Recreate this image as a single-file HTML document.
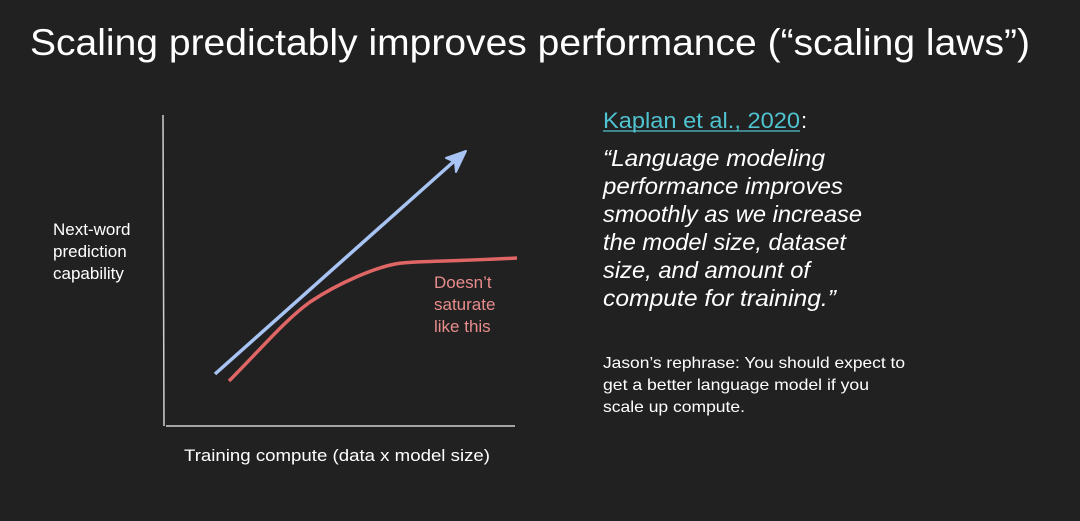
<!DOCTYPE html>
<html><head><style>
html,body{margin:0;padding:0;background:#212121;}
svg{display:block}
text{font-family:"Liberation Sans",sans-serif;}
</style></head><body>
<svg width="1080" height="521" viewBox="0 0 1080 521" xmlns="http://www.w3.org/2000/svg">
<rect width="1080" height="521" fill="#212121"/>
<text x="30" y="55" font-size="37" fill="#ffffff" textLength="1000" lengthAdjust="spacingAndGlyphs">Scaling predictably improves performance (“scaling laws”)</text>
<line x1="163" y1="115" x2="164" y2="426" stroke="#cfcfcf" stroke-width="1.5"/>
<line x1="166" y1="426" x2="515" y2="426" stroke="#cfcfcf" stroke-width="1.5"/>
<line x1="215" y1="374" x2="460" y2="156" stroke="#a8c4f4" stroke-width="3.5"/>
<path d="M466,151 L446,158 L455,162 L456,172 Z" fill="#a8c4f4" stroke="#a8c4f4" stroke-width="2" stroke-linejoin="round"/>
<path d="M229,381 C260,350 285,320 310,302 C340,282 375,268 395,264 C410,261 440,262 517,258" fill="none" stroke="#e06666" stroke-width="3.5"/>
<g font-size="17" fill="#e88c8c">
<text x="434" y="288">Doesn’t</text>
<text x="434" y="310">saturate</text>
<text x="434" y="332">like this</text>
</g>
<g font-size="17" fill="#ffffff">
<text x="53" y="235">Next-word</text>
<text x="53" y="257">prediction</text>
<text x="53" y="279">capability</text>
<text x="184" y="461" textLength="306" lengthAdjust="spacingAndGlyphs">Training compute (data x model size)</text>
</g>
<text x="603" y="128" font-size="22" fill="#4fc3d0" textLength="197" lengthAdjust="spacingAndGlyphs">Kaplan et al., 2020</text>
<line x1="603" y1="131" x2="800" y2="131" stroke="#4fc3d0" stroke-width="1.2"/>
<text x="801" y="128" font-size="22" fill="#ffffff">:</text>
<g font-size="23" font-style="italic" fill="#ffffff">
<text x="603" y="166" textLength="222" lengthAdjust="spacingAndGlyphs">“Language modeling</text>
<text x="603" y="194" textLength="240" lengthAdjust="spacingAndGlyphs">performance improves</text>
<text x="603" y="222" textLength="259" lengthAdjust="spacingAndGlyphs">smoothly as we increase</text>
<text x="603" y="250" textLength="243" lengthAdjust="spacingAndGlyphs">the model size, dataset</text>
<text x="603" y="278" textLength="207" lengthAdjust="spacingAndGlyphs">size, and amount of</text>
<text x="603" y="306" textLength="233" lengthAdjust="spacingAndGlyphs">compute for training.”</text>
</g>
<g font-size="16" fill="#ffffff">
<text x="603" y="368" textLength="302" lengthAdjust="spacingAndGlyphs">Jason’s rephrase: You should expect to</text>
<text x="603" y="390" textLength="266" lengthAdjust="spacingAndGlyphs">get a better language model if you</text>
<text x="603" y="412" textLength="142" lengthAdjust="spacingAndGlyphs">scale up compute.</text>
</g>
</svg>
</body></html>
